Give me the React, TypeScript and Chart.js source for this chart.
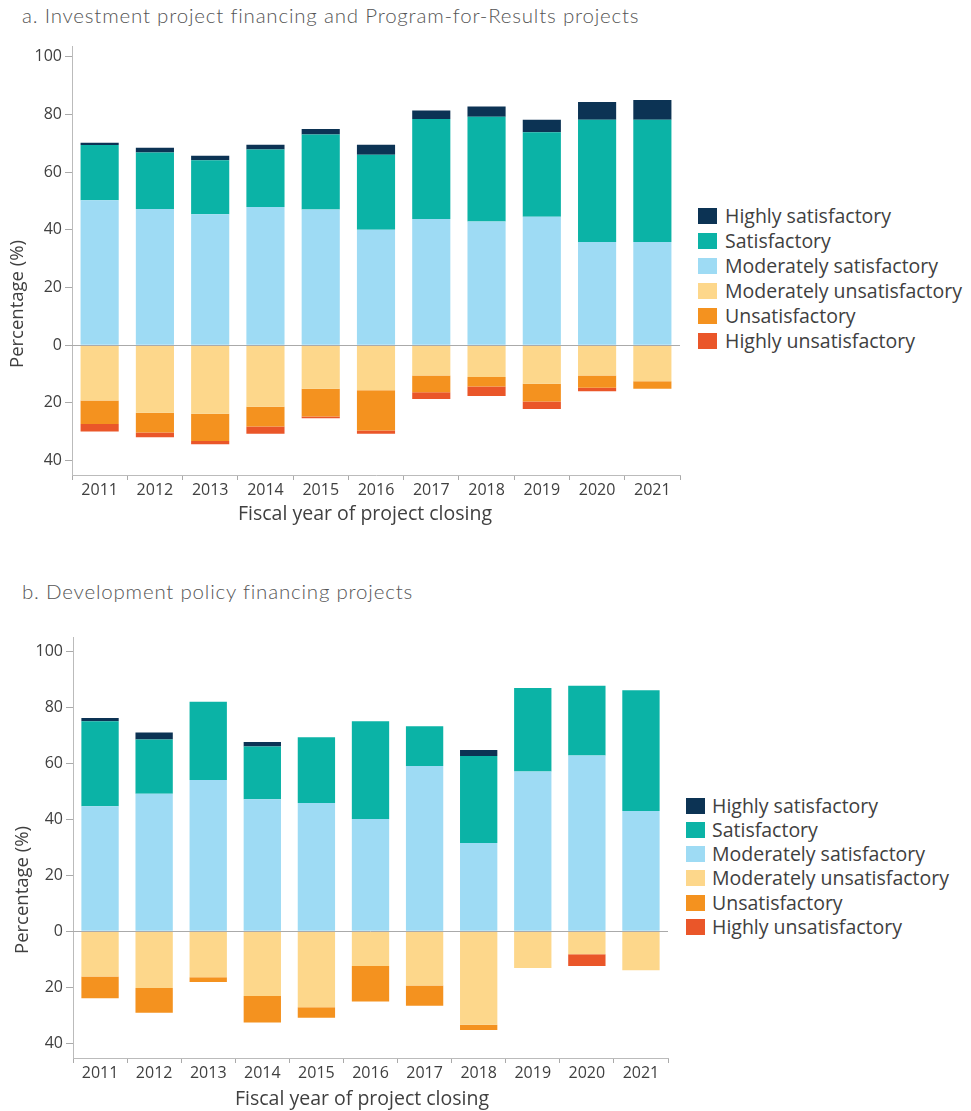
import React, { useEffect, useRef } from "react";
import { Chart, registerables } from "chart.js";

Chart.register(...registerables);

const years = ["2011", "2012", "2013", "2014", "2015", "2016", "2017", "2018", "2019", "2020", "2021"];

const seriesNames = [
  "Highly satisfactory",
  "Satisfactory",
  "Moderately satisfactory",
  "Moderately unsatisfactory",
  "Unsatisfactory",
  "Highly unsatisfactory",
];
const seriesColors = ["#0c3354", "#0bb3a6", "#9edbf4", "#fdd78b", "#f4921f", "#ea5629"];

// Panel a: Investment project financing and Program-for-Results projects
const aHighlySat = [0.8, 1.6, 1.6, 1.7, 1.9, 3.5, 2.9, 3.5, 4.3, 6.2, 6.9];
const aSat = [19.2, 19.6, 18.7, 19.9, 26.0, 26.0, 34.7, 36.3, 29.3, 42.3, 42.3];
const aModSat = [50.2, 47.2, 45.4, 47.9, 47.0, 40.0, 43.7, 42.9, 44.5, 35.8, 35.8];
const aModUnsat = [19.2, 23.4, 23.8, 21.3, 15.1, 15.6, 10.5, 11.0, 13.4, 10.5, 12.5];
const aUnsat = [8.1, 6.9, 9.4, 6.9, 9.6, 14.0, 5.8, 3.3, 6.1, 4.3, 2.6];
const aHighlyUnsat = [2.6, 1.6, 1.1, 2.5, 0.6, 1.1, 2.4, 3.3, 2.6, 1.2, 0];

// Panel b: Development policy financing projects
const bHighlySat = [1.2, 2.5, 0, 1.6, 0, 0, 0, 2.2, 0, 0, 0];
const bSat = [30.3, 19.3, 27.9, 18.8, 23.4, 34.8, 14.2, 31.0, 29.8, 24.9, 43.1];
const bModSat = [44.6, 49.1, 54.0, 47.1, 45.8, 40.1, 59.0, 31.5, 57.0, 62.7, 42.9];
const bModUnsat = [16.1, 20.2, 16.4, 23.1, 27.1, 12.4, 19.3, 33.3, 13.1, 8.2, 13.9];
const bUnsat = [7.8, 8.9, 1.7, 9.4, 3.7, 12.6, 7.3, 1.9, 0, 0, 0];
const bHighlyUnsat = [0, 0, 0, 0, 0, 0, 0, 0, 0, 4.2, 0];

const yTickValues = [-40, -20, 0, 20, 40, 60, 80, 100];

const xTitle = "Fiscal year of project closing";
const yTitle = "Percentage (%)";

const FONT = "'Open Sans', 'DejaVu Sans', sans-serif";
const TEXT = "#404040";

type PanelSpec = {
  hs: number[];
  s: number[];
  ms: number[];
  mu: number[];
  u: number[];
  hu: number[];
  yMin: number;
  yMax: number;
  yWidth: number;
  xHeight: number;
  padTop: number;
  padRight: number;
};

const zeroLinePlugin = {
  id: "zeroLine",
  afterDatasetsDraw(chart: any) {
    const y = chart.scales.y.getPixelForValue(0);
    const { left, right } = chart.chartArea;
    const ctx = chart.ctx;
    ctx.save();
    ctx.strokeStyle = "#aaaaaa";
    ctx.lineWidth = 1;
    ctx.beginPath();
    ctx.moveTo(left, Math.round(y) + 0.5);
    ctx.lineTo(right, Math.round(y) + 0.5);
    ctx.stroke();
    ctx.restore();
  },
};

function makeConfig(p: PanelSpec): any {
  const mk = (label: string, color: string, data: number[]) => ({
    label,
    data,
    backgroundColor: color,
    borderWidth: 0,
    categoryPercentage: 1,
    barPercentage: 0.69,
  });
  return {
    type: "bar",
    data: {
      labels: years,
      datasets: [
        mk(seriesNames[2], seriesColors[2], p.ms),
        mk(seriesNames[1], seriesColors[1], p.s),
        mk(seriesNames[0], seriesColors[0], p.hs),
        mk(seriesNames[3], seriesColors[3], p.mu.map((v) => -v)),
        mk(seriesNames[4], seriesColors[4], p.u.map((v) => -v)),
        mk(seriesNames[5], seriesColors[5], p.hu.map((v) => -v)),
      ],
    },
    options: {
      animation: false,
      responsive: true,
      maintainAspectRatio: false,
      layout: { padding: { top: p.padTop, right: p.padRight, left: 0, bottom: 0 } },
      plugins: { legend: { display: false }, tooltip: { enabled: false } },
      scales: {
        x: {
          stacked: true,
          afterFit: (s: any) => {
            s.height = p.xHeight;
          },
          grid: { offset: true, drawOnChartArea: false, tickLength: 5, tickColor: "#aaaaaa" },
          border: { color: "#bbbbbb", width: 1 },
          ticks: { font: { family: FONT, size: 16 }, color: TEXT, padding: 1, maxRotation: 0, autoSkip: false },
          title: { display: false },
        },
        y: {
          stacked: true,
          min: p.yMin,
          max: p.yMax,
          afterBuildTicks: (s: any) => {
            s.ticks = yTickValues.map((v) => ({ value: v }));
          },
          afterFit: (s: any) => {
            s.width = p.yWidth;
          },
          ticks: {
            font: { family: FONT, size: 16 },
            color: TEXT,
            padding: 3,
            callback: (v: any) => String(Math.abs(Number(v))),
          },
          grid: { drawOnChartArea: false, tickLength: 7, tickColor: "#aaaaaa" },
          border: { color: "#bbbbbb", width: 1 },
        },
      },
    },
    plugins: [zeroLinePlugin],
  };
}

function ChartCanvas({ spec, left, top, width, height }: { spec: PanelSpec; left: number; top: number; width: number; height: number }) {
  const ref = useRef<HTMLCanvasElement | null>(null);
  useEffect(() => {
    if (!ref.current) return;
    const chart = new Chart(ref.current, makeConfig(spec));
    return () => chart.destroy();
  }, [spec]);
  return (
    <div style={{ position: "absolute", left, top, width, height }}>
      <canvas ref={ref} />
    </div>
  );
}

function Legend({ left, top, spacing, textLeft, box }: { left: number; top: number; spacing: number; textLeft: number; box: [number, number] }) {
  return (
    <>
      {seriesNames.map((name, i) => {
        const cy = top + i * spacing;
        return (
          <React.Fragment key={name}>
            <div
              style={{
                position: "absolute",
                left,
                top: cy - box[1] / 2,
                width: box[0],
                height: box[1],
                background: seriesColors[i],
              }}
            />
            <div
              style={{
                position: "absolute",
                left: textLeft,
                top: cy - 13,
                height: 26,
                lineHeight: "26px",
                fontFamily: FONT,
                fontSize: 19.5,
                color: TEXT,
                whiteSpace: "nowrap",
              }}
            >
              {name}
            </div>
          </React.Fragment>
        );
      })}
    </>
  );
}

function YTitle({ cx, cy }: { cx: number; cy: number }) {
  return (
    <div
      style={{
        position: "absolute",
        left: cx,
        top: cy,
        transform: "translate(-50%, -50%) rotate(-90deg)",
        fontFamily: FONT,
        fontSize: 18.5,
        color: TEXT,
        whiteSpace: "nowrap",
        lineHeight: "22px",
      }}
    >
      {yTitle}
    </div>
  );
}

function XTitle({ cx, cy }: { cx: number; cy: number }) {
  return (
    <div
      style={{
        position: "absolute",
        left: cx,
        top: cy,
        transform: "translate(-50%, -50%)",
        fontFamily: FONT,
        fontSize: 19.5,
        color: TEXT,
        whiteSpace: "nowrap",
        lineHeight: "24px",
      }}
    >
      {xTitle}
    </div>
  );
}

const specA: PanelSpec = {
  hs: aHighlySat,
  s: aSat,
  ms: aModSat,
  mu: aModUnsat,
  u: aUnsat,
  hu: aHighlyUnsat,
  yMin: -45,
  yMax: 103.7,
  yWidth: 72,
  xHeight: 65,
  padTop: 16,
  padRight: 10,
};

const specB: PanelSpec = {
  hs: bHighlySat,
  s: bSat,
  ms: bModSat,
  mu: bModUnsat,
  u: bUnsat,
  hu: bHighlyUnsat,
  yMin: -45.2,
  yMax: 105,
  yWidth: 73,
  xHeight: 52,
  padTop: 27,
  padRight: 12,
};

const titleStyle: React.CSSProperties = {
  position: "absolute",
  left: 22,
  fontFamily: "Lato, 'Open Sans', sans-serif",
  fontWeight: 300,
  fontSize: 20.5,
  letterSpacing: "0.8px",
  color: "#555555",
  whiteSpace: "nowrap",
  height: 24,
  lineHeight: "24px",
};

export default function App() {
  return (
    <div style={{ position: "absolute", left: 0, top: 0, width: 971, height: 1111, background: "#ffffff", overflow: "hidden" }}>
      <div style={{ ...titleStyle, top: 3 }}>a. Investment project financing and Program-for-Results projects</div>
      <ChartCanvas spec={specA} left={0} top={30} width={690} height={510} />
      <YTitle cx={15.5} cy={304} />
      <XTitle cx={365} cy={513} />
      <Legend left={698} top={216} spacing={25} textLeft={725} box={[19, 16]} />

      <div style={{ ...titleStyle, top: 579 }}>b. Development policy financing projects</div>
      <ChartCanvas spec={specB} left={0} top={610} width={680} height={500} />
      <YTitle cx={20.5} cy={890} />
      <XTitle cx={362} cy={1098} />
      <Legend left={686} top={805.5} spacing={24.3} textLeft={712} box={[19, 16]} />
    </div>
  );
}
